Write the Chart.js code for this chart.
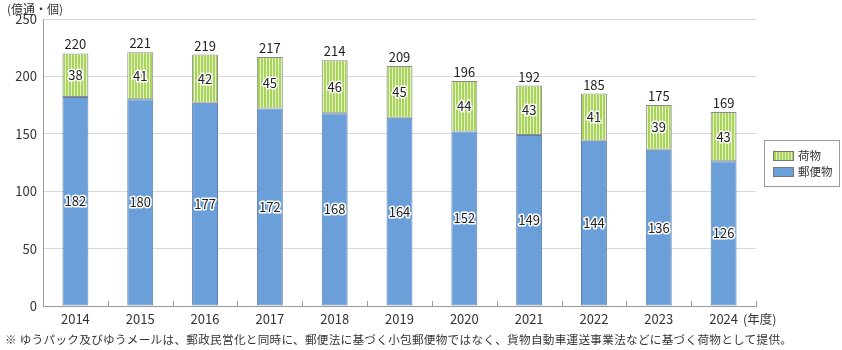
<!DOCTYPE html>
<html>
<head>
<meta charset="utf-8">
<script src="https://cdn.jsdelivr.net/npm/chart.js@4.4.1/dist/chart.umd.min.js"></script>
<style>
  body { margin: 0; background: #fff; font-family: "Noto Sans CJK JP", sans-serif; }
  #wrap { position: relative; width: 842px; height: 350px; }
  #unit { position: absolute; left: 7px; top: 0px; font-size: 12px; color: #333; }
  #nendo { position: absolute; left: 743px; top: 309px; font-size: 12.5px; color: #333; }
  #note { position: absolute; left: 5px; top: 331px; font-size: 11.6px; letter-spacing: 0.3px; color: #333; white-space: nowrap; }
  #legend { position: absolute; left: 764px; top: 140px; width: 76px; height: 47px; border: 1px solid #999; box-sizing: border-box; font-size: 11.5px; color: #333; }
  .li { position: absolute; left: 8px; height: 14px; line-height: 14px; white-space: nowrap; }
  .sw { display: inline-block; width: 21px; height: 10px; border: 1px solid #777; vertical-align: -1px; margin-right: 4px; box-sizing: border-box; }
</style>
</head>
<body>
<div id="wrap">
  <canvas id="c" width="842" height="350"></canvas>
  <div id="unit">(億通・個)</div>
  <div id="nendo">(年度)</div>
  <div id="legend">
    <div class="li" style="top:7px"><span class="sw" style="background: repeating-linear-gradient(90deg,#a9d35c 0 2px,#e4f3c6 2px 3px)"></span>荷物</div>
    <div class="li" style="top:23px"><span class="sw" style="background:#6b9fd9"></span>郵便物</div>
  </div>
  <div id="note">※ ゆうパック及びゆうメールは、郵政民営化と同時に、郵便法に基づく小包郵便物ではなく、貨物自動車運送事業法などに基づく荷物として提供。</div>
</div>
<script>
const years = ["2014", "2015", "2016", "2017", "2018", "2019", "2020", "2021", "2022", "2023", "2024"];
const yubinbutsu = [182, 180, 177, 172, 168, 164, 152, 149, 144, 136, 126];
const nimotsu = [38, 41, 42, 45, 46, 45, 44, 43, 41, 39, 43];
const totals = [220, 221, 219, 217, 214, 209, 196, 192, 185, 175, 169];

// 縦じまの荷物パターン
function stripe() {
    const p = document.createElement("canvas");
    p.width = 3; p.height = 3;
    const g = p.getContext("2d");
    g.fillStyle = "#e4f3c6";
    g.fillRect(0, 0, 3, 3);
    g.fillStyle = "#a9d35c";
    g.fillRect(0, 0, 2, 3);
    return g.createPattern(p, "repeat");
}

function outlined(ctx, text, x, y) {
    ctx.lineWidth = 3;
    ctx.strokeStyle = "#fff";
    ctx.lineJoin = "round";
    ctx.strokeText(text, x, y);
    ctx.fillStyle = "#222";
    ctx.fillText(text, x, y);
}

const labelPlugin = {
    id: "labels",
    afterDatasetsDraw(chart) {
        const ctx = chart.ctx;
        ctx.save();
        ctx.font = "13px 'Noto Sans CJK JP'";
        ctx.textAlign = "center";
        ctx.textBaseline = "middle";
        chart.data.datasets.forEach((ds, di) => {
            chart.getDatasetMeta(di).data.forEach((bar, i) => {
                const mid = (bar.y + bar.base) / 2;
                outlined(ctx, String(ds.data[i]), bar.x, mid);
            });
        });
        const top = chart.getDatasetMeta(1).data;
        ctx.fillStyle = "#222";
        top.forEach((bar, i) => {
            ctx.fillText(String(totals[i]), bar.x, bar.y - 9);
        });
        ctx.restore();
    }
};

// 軸上の内向き目盛り
const tickPlugin = {
    id: "innerTicks",
    afterDraw(chart) {
        const x = chart.scales.x, y = chart.scales.y;
        const ctx = chart.ctx;
        const step = x.getPixelForValue(1) - x.getPixelForValue(0);
        ctx.save();
        ctx.strokeStyle = "#999";
        ctx.lineWidth = 1;
        ctx.beginPath();
        for (let i = 0; i <= years.length; i++) {
            const px = Math.round(x.getPixelForValue(0) - step / 2 + step * i) + 0.5;
            ctx.moveTo(px, y.bottom);
            ctx.lineTo(px, y.bottom - 5);
        }
        ctx.stroke();
        ctx.restore();
    }
};

new Chart(document.getElementById("c"), {
    type: "bar",
    data: {
        labels: years,
        datasets: [
            { label: "郵便物", data: yubinbutsu, backgroundColor: "#6b9fd9", borderColor: "#5f7fa8", borderWidth: 1, borderSkipped: false },
            { label: "荷物", data: nimotsu, backgroundColor: stripe(), borderColor: "#8c8c8c", borderWidth: 1, borderSkipped: false }
        ]
    },
    options: {
        responsive: false,
        animation: false,
        layout: { padding: { top: 19, right: 86, bottom: 0, left: 0 } },
        plugins: { legend: { display: false }, tooltip: { enabled: false } },
        datasets: { bar: { categoryPercentage: 1, barPercentage: 0.4 } },
        scales: {
            x: {
                stacked: true,
                grid: { display: false },
                border: { color: "#999" },
                ticks: { color: "#333", font: { size: 13, family: "Noto Sans CJK JP" }, padding: -3 },
                afterFit(s) { s.height = 44; }
            },
            y: {
                stacked: true,
                min: 0, max: 250,
                ticks: { stepSize: 50, color: "#333", font: { size: 13, family: "Noto Sans CJK JP" }, padding: 6 },
                grid: { color: "#d9d9d9", drawTicks: false },
                border: { color: "#999" },
                afterFit(s) { s.width = 43; }
            }
        }
    },
    plugins: [labelPlugin, tickPlugin]
});
</script>
</body>
</html>
